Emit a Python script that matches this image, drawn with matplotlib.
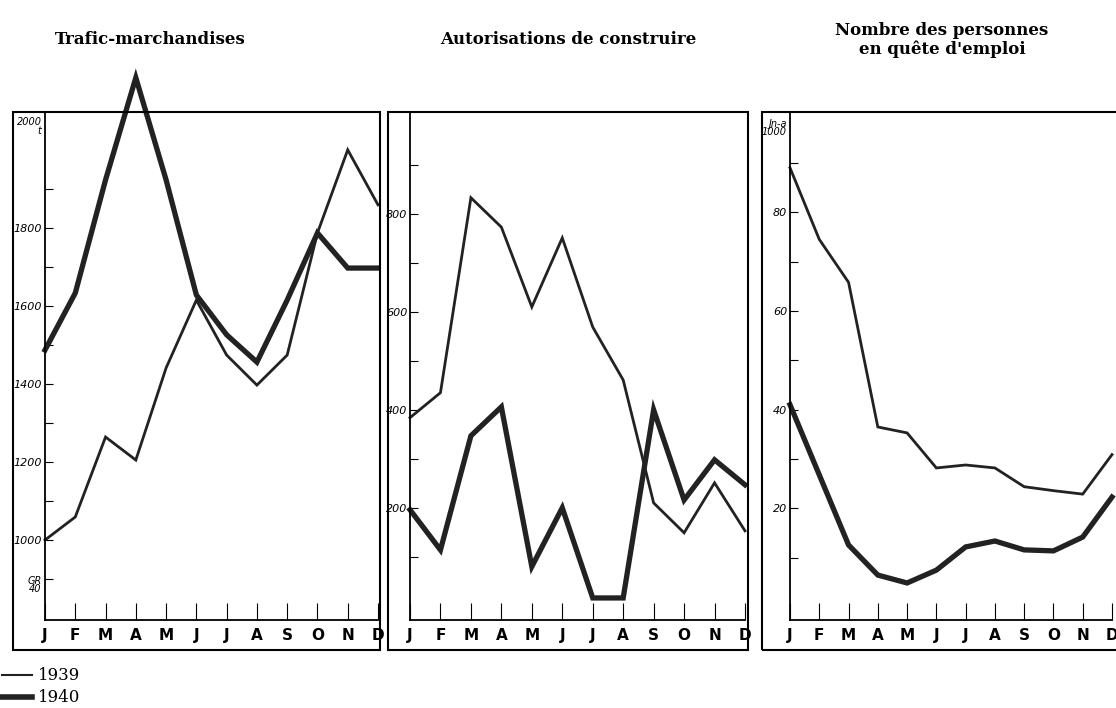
import matplotlib
matplotlib.use("Agg")
import matplotlib.pyplot as plt
from matplotlib.patches import Rectangle
from matplotlib.lines import Line2D

months = ["J", "F", "M", "A", "M", "J", "J", "A", "S", "O", "N", "D"]
titles = ["Trafic-marchandises", "Autorisations de construire",
          "Nombre des personnes\nen quête d'emploi"]
traffic_1939 = [1000, 1059, 1264, 1205, 1441, 1615, 1474, 1397, 1474, 1787, 2000, 1859]
traffic_1940 = [1487, 1633, 1923, 2185, 1923, 1628, 1526, 1456, 1615, 1787, 1697, 1697]
build_1939 = [384, 435, 833, 773, 610, 751, 569, 461, 210, 149, 251, 153]
build_1940 = [196, 114, 347, 406, 80, 200, 16, 16, 400, 216, 298, 247]
jobs_1939 = [89, 74.5, 65.8, 36.5, 35.3, 28.2, 28.8, 28.2, 24.4, 23.6, 22.9, 30.9]
jobs_1940 = [41, 26.8, 12.6, 6.5, 4.9, 7.5, 12.2, 13.4, 11.6, 11.4, 14.2, 22.3]

W, H = 1116, 708
fig = plt.figure(figsize=(W/100, H/100), dpi=100)

def fx(x): return x / W
def fy(y): return 1 - y / H

panels = [
    dict(box=(13, 380), axl=45, axr=378, ylim=(795, 2097), data=(traffic_1939, traffic_1940),
         major=[1000, 1200, 1400, 1600, 1800], minor=[900, 1100, 1300, 1500, 1700, 1900],
         extra=[(885, "GR\n40"), (2060, "2000\nt")], title_x=150),
    dict(box=(388, 748), axl=410, axr=745, ylim=(-29, 1008), data=(build_1939, build_1940),
         major=[200, 400, 600, 800], minor=[100, 300, 500, 700, 900], extra=[], title_x=568),
    dict(box=(762, 1130), axl=790, axr=1112, ylim=(-2.6, 100.3), data=(jobs_1939, jobs_1940),
         major=[20, 40, 60, 80], minor=[10, 30, 50, 70, 90], extra=[(97, "Jn-a\n1000")], title_x=942),
]

for i, p in enumerate(panels):
    b0, b1 = p["box"]
    fig.patches.append(Rectangle((fx(b0), fy(650)), fx(b1 - b0), fy(112) - fy(650),
                                 transform=fig.transFigure, fill=False, lw=1.5, ec="black"))
    ax = fig.add_axes([fx(p["axl"]), fy(620), fx(p["axr"] - p["axl"]), fy(112) - fy(620)])
    ax.set_facecolor("none")
    x = list(range(12))
    ax.plot(x, p["data"][0], color="#222", lw=2.0, clip_on=False, solid_joinstyle="miter")
    ax.plot(x, p["data"][1], color="#222", lw=3.8, clip_on=False, solid_joinstyle="miter")
    ax.set_xlim(0, 11)
    ax.set_ylim(*p["ylim"])
    for s in ["top", "right"]:
        ax.spines[s].set_visible(False)
    ax.spines["left"].set_linewidth(1.3)
    ax.spines["bottom"].set_linewidth(1.3)
    ax.set_xticks(x)
    ax.set_xticklabels(months, fontsize=11, fontweight="bold")
    ax.tick_params(axis="x", direction="in", length=12, pad=6)
    ax.set_yticks(p["major"] + p["minor"])
    ax.set_yticklabels([str(v) for v in p["major"]] + [""] * len(p["minor"]),
                       fontsize=8, style="italic")
    ax.tick_params(axis="y", direction="in", length=6, pad=2)
    for v, t in p["extra"]:
        ax.text(-0.01, v, t, transform=ax.get_yaxis_transform(), ha="right", va="center",
                fontsize=7, style="italic", linespacing=0.8)
    fig.text(fx(p["title_x"]), fy(40), titles[i], ha="center", va="center",
             fontsize=12, family="DejaVu Serif", fontweight="bold", linespacing=1.1)

fig.add_artist(Line2D([fx(2), fx(32)], [fy(675), fy(675)], color="#222", lw=1.5))
fig.add_artist(Line2D([fx(2), fx(32)], [fy(697), fy(697)], color="#222", lw=4))
fig.text(fx(38), fy(675), "1939", va="center", fontsize=12, family="DejaVu Serif")
fig.text(fx(38), fy(697), "1940", va="center", fontsize=12, family="DejaVu Serif")

fig.savefig("out.png", dpi=100)
